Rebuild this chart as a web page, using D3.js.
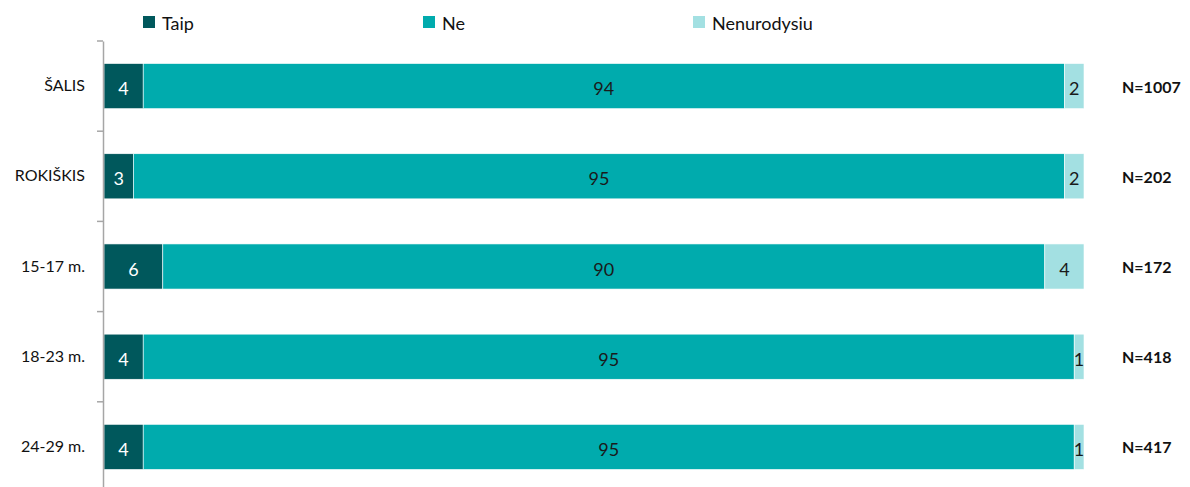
<!DOCTYPE html>
<html>
<head>
<meta charset="utf-8">
<script src="https://cdn.jsdelivr.net/npm/d3@7"></script>
<style>
  body { margin: 0; background: #fff; }
  svg { font-family: Lato, "Open Sans", sans-serif; }
</style>
</head>
<body>
<svg id="chart" width="1190" height="487"></svg>
<script>
const categories = ["ŠALIS", "ROKIŠKIS", "15-17 m.", "18-23 m.", "24-29 m."];
const taip = [4, 3, 6, 4, 4];
const ne = [94, 95, 90, 95, 95];
const nenurodysiu = [2, 2, 4, 1, 1];
const nLabels = ["N=1007", "N=202", "N=172", "N=418", "N=417"];
const seriesNames = ["Taip", "Ne", "Nenurodysiu"];
const colors = ["#00585C", "#00ABAD", "#A3E0E2"];

const svg = d3.select("#chart");
const margin = {top: 41, left: 104, right: 106, bottom: -5};
const width = 1190 - margin.left - margin.right;
const height = 487 - margin.top - margin.bottom;

const rows = categories.map((c, i) => ({cat: c, vals: [taip[i], ne[i], nenurodysiu[i]], n: nLabels[i]}));

const x = d3.scaleLinear().domain([0, 100]).range([0, width]);
const y = d3.scaleBand().domain(categories).range([0, height]).paddingInner(0.5).paddingOuter(0.25);

const g = svg.append("g").attr("transform", "translate(" + margin.left + "," + margin.top + ")");

// bars
rows.forEach(function (r) {
    let acc = 0;
    r.vals.forEach(function (v, j) {
        g.append("rect")
            .attr("x", x(acc))
            .attr("y", y(r.cat))
            .attr("width", x(acc + v) - x(acc))
            .attr("height", y.bandwidth())
            .attr("fill", colors[j])
            .attr("stroke", "#ffffff")
            .attr("stroke-width", 0.6);
        g.append("text")
            .attr("x", x(acc + v / 2))
            .attr("y", y(r.cat) + y.bandwidth() / 2 + 2)
            .attr("text-anchor", "middle")
            .attr("dominant-baseline", "central")
            .style("font-size", "18px")
            .style("fill", j === 0 ? "#ffffff" : "#1a1a1a")
            .text(v);
        acc += v;
    });
    g.append("text")
        .attr("x", width + 38)
        .attr("y", y(r.cat) + y.bandwidth() / 2)
        .attr("dominant-baseline", "central")
        .style("font-size", "16px")
        .style("font-weight", "bold")
        .style("fill", "#111")
        .text(r.n);
});

// y axis
const axisG = g.append("g")
    .attr("transform", "translate(-1,0)")
    .call(d3.axisLeft(y).tickSize(0).tickPadding(18));
axisG.select(".domain").attr("stroke", "#A6A6A6").attr("stroke-width", 1.5);
axisG.selectAll("text").style("font-size", "16px").style("fill", "#111").style("font-family", "Lato, sans-serif");

// boundary ticks between categories
const step = y.step();
const bounds = d3.range(categories.length).map(i => i * step);
axisG.selectAll(".bound")
    .data(bounds)
    .enter()
    .append("line")
    .attr("x1", -6).attr("x2", 0)
    .attr("y1", d => d).attr("y2", d => d)
    .attr("stroke", "#A6A6A6").attr("stroke-width", 1.5);

// legend
const legendX = [143, 423, 693];
const legend = svg.append("g");
seriesNames.forEach(function (s, i) {
    legend.append("rect")
        .attr("x", legendX[i]).attr("y", 16)
        .attr("width", 12).attr("height", 12)
        .attr("fill", colors[i]);
    legend.append("text")
        .attr("x", legendX[i] + 19).attr("y", 23)
        .attr("dominant-baseline", "central")
        .style("font-size", "18px")
        .style("fill", "#111")
        .text(s);
});
</script>
</body>
</html>
